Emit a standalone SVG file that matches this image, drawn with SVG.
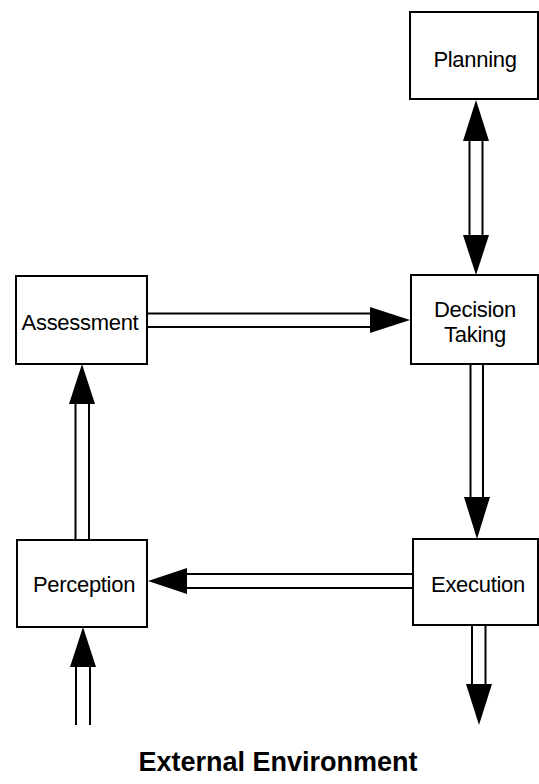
<svg xmlns="http://www.w3.org/2000/svg" width="539" height="784" viewBox="0 0 539 784">
  <style>
    .box { fill: #ffffff; stroke: #000000; stroke-width: 2; }
    .lbl { font-family: "Liberation Sans", Arial, sans-serif; font-size: 22px; fill: #000000; text-anchor: middle; letter-spacing: -0.3px; }
    .env { font-family: "Liberation Sans", Arial, sans-serif; font-size: 27px; font-weight: bold; fill: #000000; text-anchor: middle; }
    .shaft { stroke: #000000; stroke-width: 2; fill: none; }
    .head { fill: #000000; stroke: none; }
  </style>
  <rect x="0" y="0" width="539" height="784" fill="#ffffff"/>

  <g id="connectors">
    <!-- Planning <-> Decision Taking -->
    <line class="shaft" x1="469.5" y1="139" x2="469.5" y2="237"/>
    <line class="shaft" x1="482.5" y1="139" x2="482.5" y2="237"/>
    <polygon class="head" points="476,100 463,141 489,141"/>
    <polygon class="head" points="476,275 463,235 489,235"/>

    <!-- Assessment -> Decision Taking -->
    <line class="shaft" x1="147" y1="313.5" x2="372" y2="313.5"/>
    <line class="shaft" x1="147" y1="327" x2="372" y2="327"/>
    <polygon class="head" points="410,320 370,307 370,333"/>

    <!-- Decision Taking -> Execution -->
    <line class="shaft" x1="470.5" y1="364" x2="470.5" y2="499"/>
    <line class="shaft" x1="483" y1="364" x2="483" y2="499"/>
    <polygon class="head" points="477,539 464,497 490,497"/>

    <!-- Execution -> Perception -->
    <line class="shaft" x1="413" y1="574" x2="185" y2="574"/>
    <line class="shaft" x1="413" y1="588" x2="185" y2="588"/>
    <polygon class="head" points="148,581 187,568 187,594"/>

    <!-- Perception -> Assessment -->
    <line class="shaft" x1="75.5" y1="540" x2="75.5" y2="402"/>
    <line class="shaft" x1="89" y1="540" x2="89" y2="402"/>
    <polygon class="head" points="82,364 69,404 95,404"/>

    <!-- External Environment -> Perception -->
    <line class="shaft" x1="76" y1="725" x2="76" y2="665"/>
    <line class="shaft" x1="90" y1="725" x2="90" y2="665"/>
    <polygon class="head" points="83,627 70,667 96,667"/>

    <!-- Execution -> External Environment -->
    <line class="shaft" x1="472" y1="625" x2="472" y2="686"/>
    <line class="shaft" x1="485.5" y1="625" x2="485.5" y2="686"/>
    <polygon class="head" points="479,725 466,684 492,684"/>
  </g>

  <g id="planning">
    <rect class="box" x="410" y="12" width="128" height="87"/>
    <text class="lbl" x="475" y="67">Planning</text>
  </g>

  <g id="decision-taking">
    <rect class="box" x="411" y="275" width="127" height="89"/>
    <text class="lbl" x="475" y="317">Decision</text>
    <text class="lbl" x="475" y="342">Taking</text>
  </g>

  <g id="assessment">
    <rect class="box" x="16" y="276" width="131" height="88"/>
    <text class="lbl" x="80" y="330">Assessment</text>
  </g>

  <g id="perception">
    <rect class="box" x="17" y="540" width="130" height="87"/>
    <text class="lbl" x="84" y="592">Perception</text>
  </g>

  <g id="execution">
    <rect class="box" x="413" y="539" width="125" height="86"/>
    <text class="lbl" x="478" y="592">Execution</text>
  </g>

  <g id="external-environment">
    <text class="env" x="278" y="771">External Environment</text>
  </g>
</svg>
